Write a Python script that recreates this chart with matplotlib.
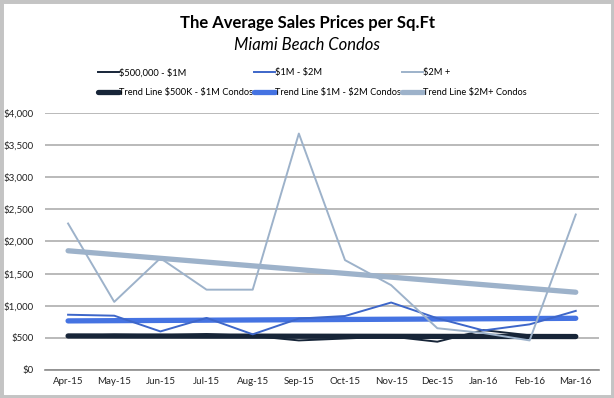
import numpy as np
import matplotlib.pyplot as plt
from matplotlib.patches import Rectangle
from matplotlib.ticker import FuncFormatter

plt.rcParams['font.family'] = ['Lato', 'DejaVu Sans']
plt.rcParams['text.parse_math'] = False

# Data
months = ['Apr-15', 'May-15', 'Jun-15', 'Jul-15', 'Aug-15', 'Sep-15',
          'Oct-15', 'Nov-15', 'Dec-15', 'Jan-16', 'Feb-16', 'Mar-16']
low_tier = [530, 550, 540, 560, 530, 460, 490, 520, 440, 620, 540, 520]
mid_tier = [860, 845, 600, 810, 555, 800, 840, 1050, 805, 615, 710, 920]
high_tier = [2280, 1060, 1740, 1250, 1250, 3680, 1710, 1320, 650, 575, 460, 2420]

c_low = '#172538'
c_mid = '#3d66c9'
c_high = '#9db2ca'
c_mid_trend = '#4573e2'

fig = plt.figure(figsize=(6.14, 3.98), dpi=100)
ax = fig.add_axes([0.0733, 0.0704, 0.902, 0.6457])

x = np.arange(len(months))

# raw series
l1, = ax.plot(x, low_tier, color=c_low, lw=1.4, label='$500,000 - $1M', zorder=3)
l2, = ax.plot(x, mid_tier, color=c_mid, lw=1.4, label='$1M - $2M', zorder=3)
l3, = ax.plot(x, high_tier, color=c_high, lw=1.4, label='$2M +', zorder=3)

# linear trend lines (same as Excel's linear trendline)
def trend(vals):
    k, b = np.polyfit(x, vals, 1)
    return k * x + b

t1, = ax.plot(x, trend(low_tier), color=c_low, lw=3.8, solid_capstyle='round',
              label='Trend Line $500K - $1M Condos', zorder=2)
t2, = ax.plot(x, trend(mid_tier), color=c_mid_trend, lw=3.8, solid_capstyle='round',
              label='Trend Line $1M - $2M Condos', zorder=2)
t3, = ax.plot(x, trend(high_tier), color=c_high, lw=3.8, solid_capstyle='round',
              label='Trend Line $2M+ Condos', zorder=2)

ax.set_xlim(-0.5, len(months) - 0.5)
ax.set_ylim(0, 4000)
ax.set_yticks(range(0, 4001, 500))
ax.yaxis.set_major_formatter(FuncFormatter(lambda v, p: '${:,.0f}'.format(v)))
ax.set_xticks(x)
ax.set_xticklabels(months)
ax.tick_params(axis='both', length=0, labelsize=7, colors='#222222')
ax.tick_params(axis='y', pad=8)
ax.tick_params(axis='x', pad=5)
ax.grid(axis='y', color='#b4b4b4', lw=1.3)
ax.set_axisbelow(True)
for s in ['top', 'right', 'left']:
    ax.spines[s].set_visible(False)
ax.spines['bottom'].set_color('#8c8c8c')
ax.spines['bottom'].set_linewidth(1.2)

fig.text(0.5, 0.942, 'The Average Sales Prices per Sq.Ft', ha='center', va='center',
         fontsize=12, fontweight='bold')
fig.text(0.5, 0.887, 'Miami Beach Condos', ha='center', va='center',
         fontsize=12, style='italic')

leg = fig.legend(handles=[l1, t1, l2, t2, l3, t3], ncol=3, loc='upper left',
                 bbox_to_anchor=(98 / 614, 1 - 68 / 398), frameon=False, fontsize=6.7,
                 handlelength=2.3, handletextpad=0.0, columnspacing=0.05,
                 labelspacing=1.15, borderpad=0, borderaxespad=0)

fig.patches.append(Rectangle((0, 0), 1, 1, transform=fig.transFigure,
                             fill=False, edgecolor='#c4c4c4', lw=5))

fig.savefig('out.png', dpi=100)
